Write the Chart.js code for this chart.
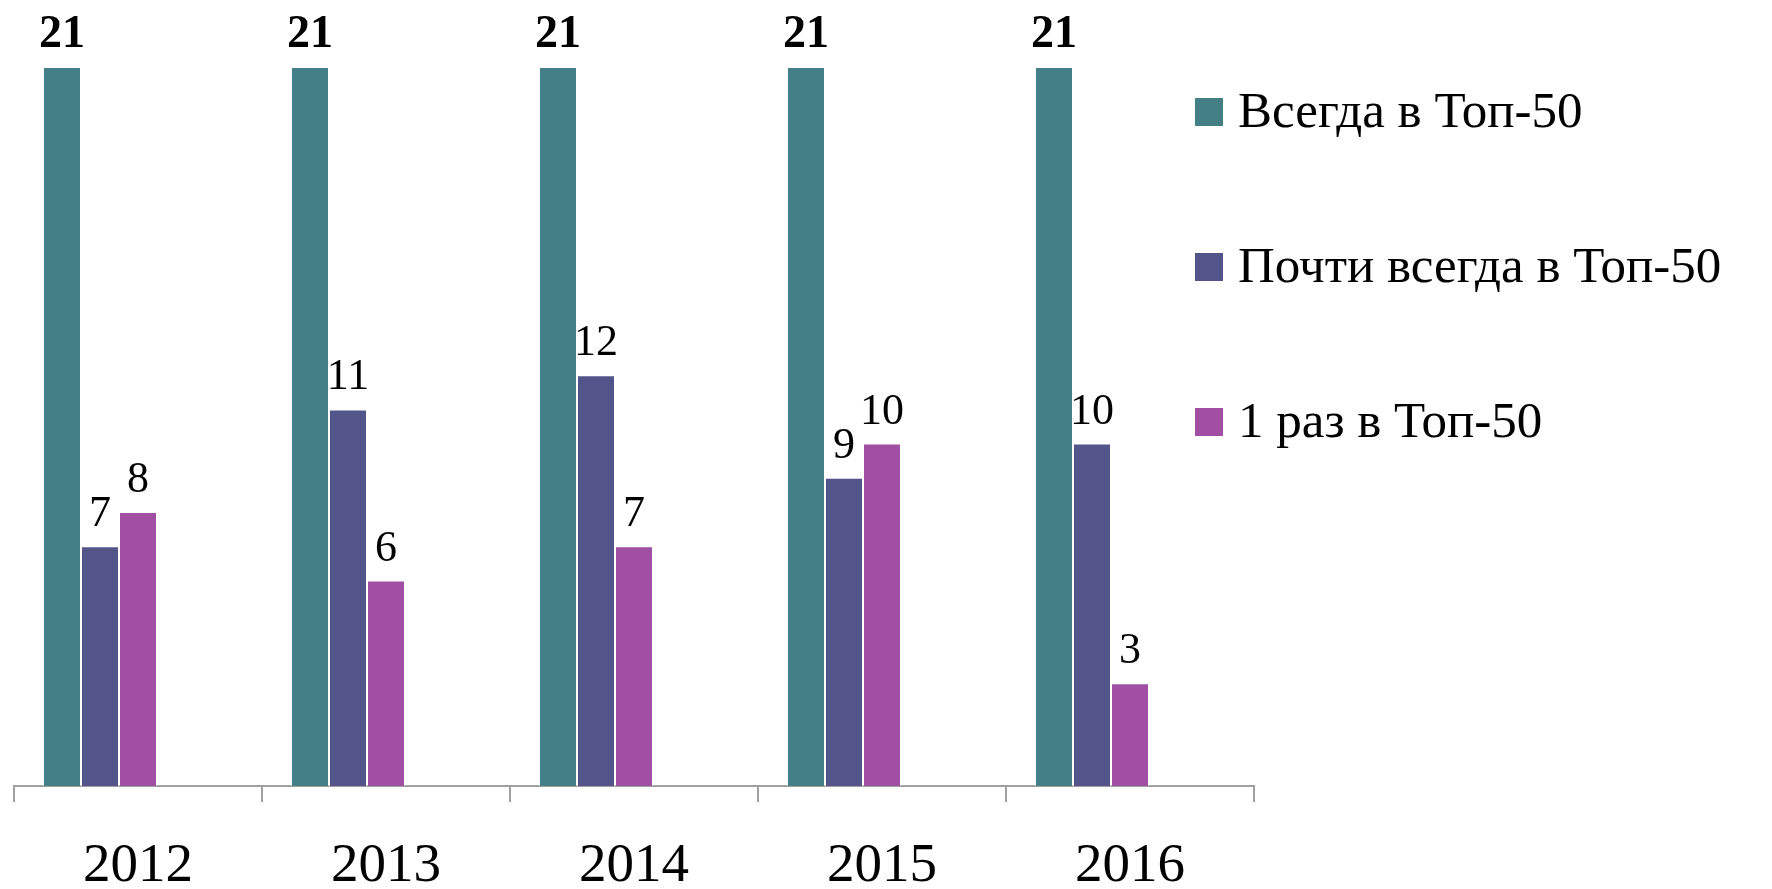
<!DOCTYPE html>
<html>
<head>
<meta charset="utf-8">
<script src="https://cdn.jsdelivr.net/npm/chart.js@4/dist/chart.umd.min.js"></script>
<style>
    html, body { margin: 0; padding: 0; background: #fff; }
    #wrap { width: 1772px; height: 889px; position: relative; }
</style>
</head>
<body>
<div id="wrap"><canvas id="chart"></canvas></div>
<script>
// data
const years = ['2012', '2013', '2014', '2015', '2016'];
const seriesNames = ['Всегда в Топ-50', 'Почти всегда в Топ-50', '1 раз в Топ-50'];
const alwaysTop = [21, 21, 21, 21, 21];
const almostTop = [7, 11, 12, 9, 10];
const onceTop = [8, 6, 7, 10, 3];
const seriesColors = ['#437F85', '#52548A', '#A04FA3'];

const FONT = "'Liberation Serif', 'DejaVu Serif', serif";

// two empty slots so each group sits left in its category, like the original
const emptySlot = years.map(() => null);

const datasets = [alwaysTop, almostTop, onceTop].map((vals, i) => ({
    label: seriesNames[i],
    data: vals,
    backgroundColor: seriesColors[i],
    borderColor: 'rgba(255,255,255,0.55)',
    borderWidth: 1
}));
datasets.push({ label: '', data: emptySlot }, { label: '', data: emptySlot });

// value labels above the bars
const valueLabels = {
    id: 'valueLabels',
    afterDatasetsDraw(chart) {
        const ctx = chart.ctx;
        ctx.save();
        ctx.fillStyle = '#000';
        ctx.textAlign = 'center';
        ctx.textBaseline = 'alphabetic';
        for (let d = 0; d < 3; d++) {
            ctx.font = (d === 0 ? 'bold 46px ' : '44px ') + FONT;
            chart.getDatasetMeta(d).data.forEach((bar, i) => {
                const v = chart.data.datasets[d].data[i];
                ctx.fillText(String(v), bar.x, bar.y - 20);
            });
        }
        ctx.restore();
    }
};

// legend drawn on the right, one row per real series
const sideLegend = {
    id: 'sideLegend',
    afterDraw(chart) {
        const ctx = chart.ctx;
        ctx.save();
        ctx.font = '51px ' + FONT;
        ctx.textBaseline = 'alphabetic';
        ctx.textAlign = 'left';
        for (let d = 0; d < 3; d++) {
            const top = 98 + d * 155;
            ctx.fillStyle = chart.data.datasets[d].backgroundColor;
            ctx.fillRect(1195, top, 28, 28);
            ctx.fillStyle = '#000';
            ctx.fillText(chart.data.datasets[d].label, 1238, top + 29);
        }
        ctx.restore();
    }
};

new Chart(document.getElementById('chart'), {
    type: 'bar',
    data: { labels: years, datasets: datasets },
    options: {
        responsive: true,
        maintainAspectRatio: false,
        animation: false,
        datasets: { bar: { categoryPercentage: 0.766, barPercentage: 1.0 } },
        layout: { padding: { left: 14, right: 518, top: 67, bottom: 0 } },
        plugins: { legend: { display: false }, tooltip: { enabled: false } },
        scales: {
            x: {
                grid: { offset: true, drawOnChartArea: false, tickLength: 16, color: '#A0A0A0', lineWidth: 2 },
                border: { color: '#A0A0A0', width: 2 },
                ticks: { color: '#000', font: { family: FONT, size: 55 }, padding: 32 },
                afterFit: function(scale) { scale.height = 103; }
            },
            y: { display: false, min: 0, max: 21 }
        }
    },
    plugins: [valueLabels, sideLegend]
});
</script>
</body>
</html>
